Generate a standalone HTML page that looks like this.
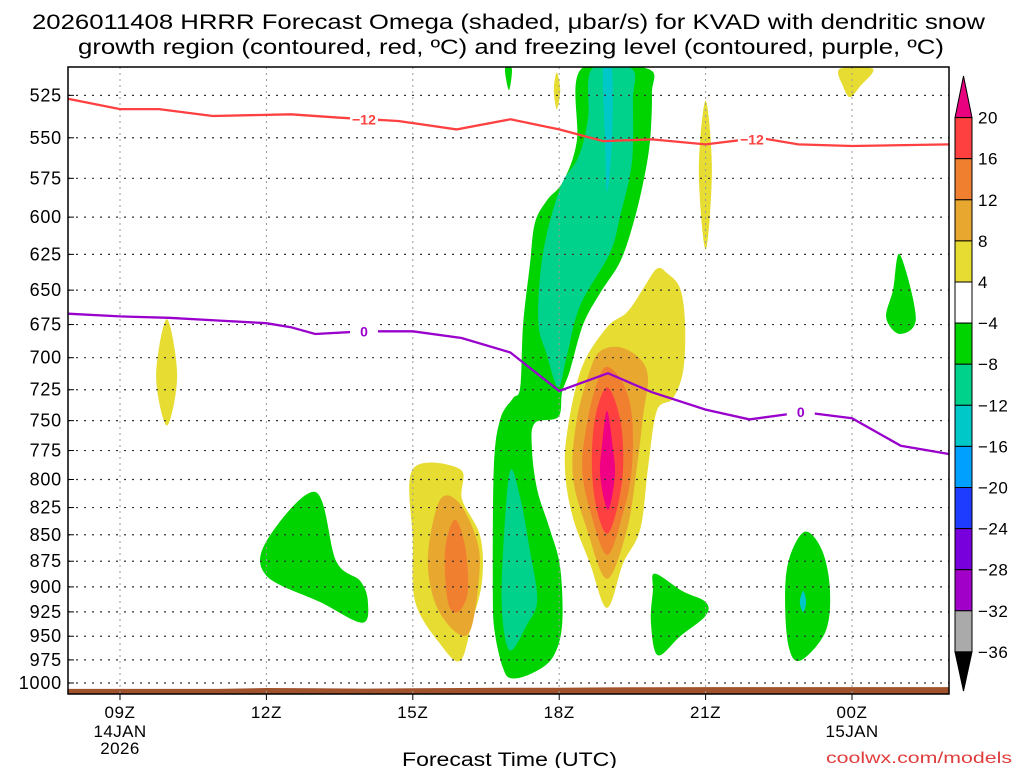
<!DOCTYPE html>
<html><head><meta charset="utf-8"><style>
body{margin:0;background:#fff;}
svg{display:block;font-family:"Liberation Sans","DejaVu Sans",sans-serif;}
</style></head><body>
<svg id="chart" width="1024" height="768" viewBox="0 0 1024 768" xmlns="http://www.w3.org/2000/svg">
<defs><clipPath id="pc"><rect x="68" y="67" width="881" height="627"/></clipPath></defs>
<text x="32" y="29" textLength="953" lengthAdjust="spacingAndGlyphs" font-size="21" fill="#000">2026011408 HRRR Forecast Omega (shaded, μbar/s) for KVAD with dendritic snow</text>
<text x="78" y="54" textLength="866" lengthAdjust="spacingAndGlyphs" font-size="21" fill="#000">growth region (contoured, red, ºC) and freezing level (contoured, purple, ºC)</text>
<g id="fills" clip-path="url(#pc)"></g>
<g id="grid"></g>
<g id="lines"></g>
<rect x="68" y="67" width="881" height="627" fill="none" stroke="#000" stroke-width="1.5"/>
<g id="axes"></g>
<g id="cbar"></g>
<text x="402" y="766" textLength="215" lengthAdjust="spacingAndGlyphs" font-size="19" fill="#000">Forecast Time (UTC)</text>
<text x="826" y="763" textLength="186" lengthAdjust="spacingAndGlyphs" font-size="16" fill="#e03c3c">coolwx.com/models</text>
</svg>
<script>
// ---- data ----
const levels=[525,550,575,600,625,650,675,700,725,750,775,800,825,850,875,900,925,950,975,1000];
const timeHours=[9,12,15,18,21,24];
const timeLabels=["09Z","12Z","15Z","18Z","21Z","00Z"];
const dateLabels=["14JAN\n2026","","","","","15JAN"];
const cbarLabels=["20","16","12","8","4","\u22124","\u22128","\u221212","\u221216","\u221220","\u221224","\u221228","\u221232","\u221236"];
const cbarColors=["#ff4040","#f08030","#e8a830","#e6dc32","#ffffff","#00d400","#00d28c","#00c8c8","#00a0ff","#1e3cff","#7800dc","#a000c8","#aaaaaa"];
const dgzHours=[7.93,9,9.8,10.9,12.5,13.5,14.7,15.9,17,18,18.9,19.9,21,22.1,22.9,24,26];
const dgzPres=[527,533,533,537,536,538,540,545,539,545,552,551,554,550,554,555,554];
const frzHours=[7.93,9,10,11,12,12.5,13,14,15,16,17,18,19,19.9,21,21.9,23,24,25,26];
const frzPres=[667,669,670,672,674,677,682,680,680,685,696,726,712,727,741,749,743,748,771,778];
const sfcHours=[7.9,9,10,11,12,13,14,15,16,17,18,19,20,21,22,23,24,25,26];
const sfcPres=[1006.5,1006.5,1006.5,1006.5,1005.5,1005.8,1006.2,1005.8,1005.5,1005.2,1005.2,1004.8,1004.6,1004.5,1004.5,1004.5,1004.5,1004.5,1004.5];
const greenMain=[[18.45,510],[18.36,552],[18.08,577],[17.75,589],[17.5,604],[17.4,632],[17.26,675],[17.2,723],[17.05,732],[16.79,749],[16.66,790],[16.64,905],[16.68,946],[16.85,984],[17.03,995],[17.46,989],[17.87,972],[18.06,938],[18.02,881],[17.81,845],[17.55,809],[17.44,773],[17.5,752],[17.98,747],[18.06,727],[18.22,710],[18.49,675],[18.84,652],[19.25,630],[19.51,605],[19.72,578],[19.86,552],[19.9,524],[19.82,510]];
const greenSpike=[[16.89,510],[17.03,510],[16.97,522]];
const greenRight=[[24.98,625],[25.31,670],[24.98,682],[24.7,670],[24.84,650]];
const greenLeft=[[12.0,856],[13.0,811],[13.43,875],[13.92,894],[14.08,915],[13.96,936],[13.1,915],[12.0,889]];
const green21=[[19.96,887],[20.52,904],[21.0,915],[21.0,929],[20.48,950],[20.02,970],[19.88,936],[19.92,904]];
const green23=[[23.04,847],[23.39,865],[23.55,904],[23.45,946],[22.93,976],[22.69,958],[22.63,904],[22.73,870]];
const tealUpper=[[18.67,510],[18.59,539],[18.39,562],[18.02,581],[17.67,624],[17.57,672],[17.75,698],[17.98,723],[18.16,698],[18.43,661],[19.04,624],[19.25,599],[19.49,565],[19.51,528],[19.49,510]];
const tealLower=[[16.99,793],[16.85,865],[16.83,926],[16.99,965],[17.34,938],[17.55,913],[17.4,865],[17.2,816]];
const teal23=[[23.0,904],[23.06,915],[23.0,925],[22.93,915]];
const cyanUpper=[[18.9,510],[18.94,552],[18.98,584],[19.08,552],[19.08,510]];
const yellowBig=[[20.0,635],[20.21,638],[20.48,649],[20.58,675],[20.54,710],[20.33,732],[20.0,742],[19.82,790],[19.66,845],[19.31,877],[18.98,921],[18.63,877],[18.28,834],[18.12,793],[18.18,755],[18.47,707],[18.98,677],[19.39,666],[19.72,649]];
const yellowTiny=[[17.95,512],[18.02,522],[17.95,533],[17.89,522]];
const yellowTopRight=[[23.75,510],[24.43,510],[24.16,520],[23.96,526],[23.82,520]];
const yellow21=[[21.0,528],[21.13,570],[21.0,622],[20.86,570]];
const yellowLeft=[[9.96,671],[10.17,714],[9.96,754],[9.74,714]];
const yellow15=[[15.0,791],[15.97,791],[16.01,818],[16.38,851],[16.42,894],[16.21,936],[15.97,976],[15.56,958],[15.05,915],[15.0,856]];
const goldBig=[[18.84,695],[19.25,692],[19.66,701],[19.82,716],[19.72,746],[19.59,790],[19.39,845],[18.98,892],[18.57,845],[18.28,797],[18.36,749],[18.63,710]];
const gold15=[[15.56,818],[15.97,822],[16.34,860],[16.34,899],[16.17,945],[15.86,945],[15.45,915],[15.31,870]];
const orangeBig=[[18.98,707],[19.31,720],[19.49,746],[19.49,790],[19.31,830],[18.98,869],[18.63,827],[18.47,790],[18.57,752],[18.77,720]];
const orange15=[[15.86,836],[16.07,860],[16.13,904],[15.93,925],[15.72,915],[15.66,865]];
const redBig=[[18.98,723],[19.25,749],[19.31,790],[19.18,827],[18.98,849],[18.77,827],[18.67,790],[18.73,749]];
const magentaBig=[[18.98,742],[19.1,773],[19.14,797],[19.0,827],[18.84,797],[18.88,770]];

// ---- axes ----
const X=h=>120+(h-9)*48.8;
const Y=p=>683-912*Math.log(1000/p);
const NS="http://www.w3.org/2000/svg";
function mk(tag,attrs,parent){const e=document.createElementNS(NS,tag);for(const k in attrs)e.setAttribute(k,attrs[k]);parent.appendChild(e);return e;}
function smoothPath(pts){
  const P=pts.map(([h,p])=>[X(h),Y(p)]);
  const n=P.length;let d=`M${P[0][0].toFixed(1)},${P[0][1].toFixed(1)}`;
  for(let i=0;i<n;i++){const p0=P[(i-1+n)%n],p1=P[i],p2=P[(i+1)%n],p3=P[(i+2)%n];
    const c1=[p1[0]+(p2[0]-p0[0])/6,p1[1]+(p2[1]-p0[1])/6],c2=[p2[0]-(p3[0]-p1[0])/6,p2[1]-(p3[1]-p1[1])/6];
    d+=`C${c1[0].toFixed(1)},${c1[1].toFixed(1)} ${c2[0].toFixed(1)},${c2[1].toFixed(1)} ${p2[0].toFixed(1)},${p2[1].toFixed(1)}`;}
  return d+"Z";
}
const fg=document.getElementById('fills');
const regions=[
 ["green-main",greenMain,"#00d400"],["green-spike",greenSpike,"#00d400"],["green-right",greenRight,"#00d400"],["green-left",greenLeft,"#00d400"],["green-21z",green21,"#00d400"],["green-23z",green23,"#00d400"],
 ["teal-upper",tealUpper,"#00d28c"],["teal-lower",tealLower,"#00d28c"],["teal-23z",teal23,"#00c8c8"],["cyan-upper",cyanUpper,"#00c8c8"],
 ["yellow-big",yellowBig,"#e6dc32"],["yellow-tiny",yellowTiny,"#e6dc32"],["yellow-top-right",yellowTopRight,"#e6dc32"],["yellow-21z",yellow21,"#e6dc32"],["yellow-left",yellowLeft,"#e6dc32"],["yellow-15z",yellow15,"#e6dc32"],
 ["gold-big",goldBig,"#e8a830"],["gold-15z",gold15,"#e8a830"],["orange-big",orangeBig,"#f08030"],["orange-15z",orange15,"#f08030"],["red-big",redBig,"#ff4040"],["magenta-core",magentaBig,"#f00082"]];
regions.forEach(([name,pts,col])=>{
  const e=mk('path',{d:smoothPath(pts),fill:col},fg);
  
  
});
let td=`M${X(sfcHours[0])},694`;sfcHours.forEach((h,i)=>td+=`L${X(h).toFixed(1)},${Y(sfcPres[i]).toFixed(1)}`);td+=`L${X(sfcHours[sfcHours.length-1])},694Z`;
const terr=mk('path',{d:td,fill:'#a0522d'},fg);


// grid
const grid=document.getElementById('grid');
levels.forEach(p=>{const l=mk('line',{x1:68,x2:949,y1:Y(p),y2:Y(p),stroke:'#333','stroke-dasharray':'2,6','stroke-width':1.2},grid);
  
  });
timeHours.forEach(h=>{const l=mk('line',{x1:X(h),x2:X(h),y1:67,y2:694,stroke:'#999','stroke-dasharray':'2,4','stroke-width':1},grid);
  
  });
// contour lines
const lines=document.getElementById('lines');
function polyline(hs,ps,col,name){const d=hs.map((h,i)=>(i?'L':'M')+X(h).toFixed(1)+','+Y(ps[i]).toFixed(1)).join('');
  const e=mk('path',{d:d,fill:'none',stroke:col,'stroke-width':2.3},lines);
  
  }
polyline(dgzHours,dgzPres,'#ff4040','dgz-minus12-line');
polyline(frzHours,frzPres,'#9900cc','freezing-level-line');
function lab(h,p,txt,col,name){const x=X(h),y=Y(p);mk('rect',{x:x-14,y:y-8,width:28,height:15,fill:'#fff'},lines);
  const t=mk('text',{x:x,y:y+5,'text-anchor':'middle','font-size':14,'font-weight':'bold',fill:col},lines);t.textContent=txt;
  
  }
lab(14.0,539,'\u221212','#ff4040','dgz-label-1');
lab(21.95,551,'\u221212','#ff4040','dgz-label-2');
lab(14.0,680,'0','#9900cc','frz-label-1');
lab(22.95,743,'0','#9900cc','frz-label-2');
// axes
const axes=document.getElementById('axes');
levels.forEach(p=>{const t=mk('text',{x:62,y:Y(p)+6,'text-anchor':'end','font-size':18,'letter-spacing':'0.8',fill:'#000'},axes);t.textContent=p;
  
  
  mk('line',{x1:68,x2:74,y1:Y(p),y2:Y(p),stroke:'#000'},axes);});
timeHours.forEach((h,i)=>{mk('line',{x1:X(h),x2:X(h),y1:694,y2:700,stroke:'#000'},axes);
  const t=mk('text',{x:X(h),y:718,'text-anchor':'middle','font-size':17,'letter-spacing':'0.6',fill:'#000'},axes);t.textContent=timeLabels[i];
  
  
  dateLabels[i].split('\n').forEach((s,j)=>{if(!s)return;const d=mk('text',{x:X(h),y:737+j*17,'text-anchor':'middle','font-size':17,'letter-spacing':'0.4',fill:'#000'},axes);d.textContent=s;
    
    });});
// colorbar
const cb=document.getElementById('cbar');const cbTop=117.6,bh=41.1,cx=955,cw=17;
mk('path',{d:`M${cx},${cbTop}L${cx+cw/2},76L${cx+cw},${cbTop}Z`,fill:'#e8007f',stroke:'#000'},cb);
cbarColors.forEach((c,i)=>{const r=mk('rect',{x:cx,y:cbTop+i*bh,width:cw,height:bh,fill:c,stroke:'#000','stroke-width':1},cb);
  
  });
const cbBot=cbTop+cbarColors.length*bh;
mk('path',{d:`M${cx},${cbBot}L${cx+cw/2},691L${cx+cw},${cbBot}Z`,fill:'#000',stroke:'#000'},cb);
cbarLabels.forEach((s,i)=>{const t=mk('text',{x:978,y:cbTop+i*bh+6,'font-size':17,'letter-spacing':'0.5',fill:'#000'},cb);t.textContent=s;
  
  });
</script>
</body></html>
